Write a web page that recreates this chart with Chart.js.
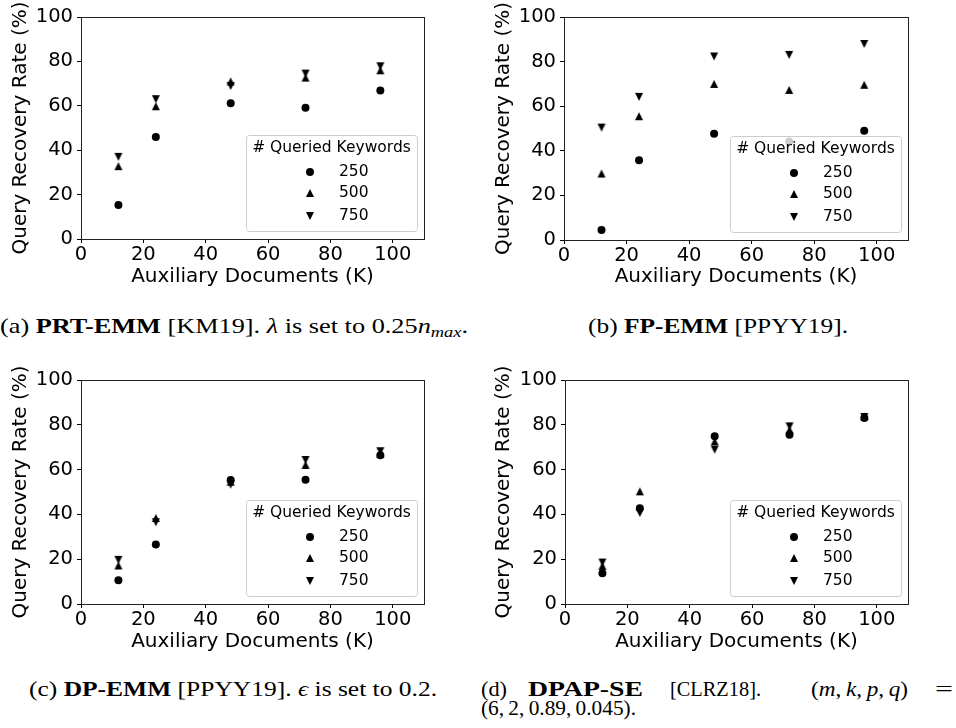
<!DOCTYPE html>
<html><head><meta charset="utf-8">
<script src="https://cdn.jsdelivr.net/npm/chart.js@4.4.1/dist/chart.umd.min.js"></script>
<style>
html,body{margin:0;padding:0;background:#fff;width:956px;height:728px;overflow:hidden;position:relative;}
canvas{position:absolute;}
.cap{position:absolute;font-family:"Liberation Serif","DejaVu Serif",serif;font-size:21px;line-height:20px;color:#000;white-space:nowrap;}
.cap > span{display:inline-block;}
.cap sub{font-size:70%;vertical-align:-0.3em;line-height:0;}
</style></head><body>
<canvas id="ca" width="478" height="300" style="left:0;top:0"></canvas>
<canvas id="cb" width="478" height="300" style="left:478px;top:0"></canvas>
<canvas id="cc" width="478" height="300" style="left:0;top:363px"></canvas>
<canvas id="cd" width="478" height="300" style="left:478px;top:363px"></canvas>

<div class="cap" data-w="468" data-c="234" style="top:316px"><span>(a) <b>PRT-EMM</b> [KM19]. <i>λ</i> is set to 0.25<i>n</i><sub><i>max</i></sub>.</span></div>
<div class="cap" data-w="260" data-c="718" style="top:316px"><span>(b) <b>FP-EMM</b> [PPYY19].</span></div>
<div class="cap" data-w="408" data-c="233" style="top:679px"><span>(c) <b>DP-EMM</b> [PPYY19]. <i>ϵ</i> is set to 0.2.</span></div>
<div class="cap" data-w="26" data-l="481" style="top:679px"><span>(d)</span></div>
<div class="cap" data-w="115" data-l="528" style="top:679px"><span><b>DPAP-SE</b></span></div>
<div class="cap" data-w="91" data-l="670" style="top:679px"><span>[CLRZ18].</span></div>
<div class="cap" data-w="97" data-l="811" style="top:679px"><span>(<i>m</i>,&thinsp;<i>k</i>,&thinsp;<i>p</i>,&thinsp;<i>q</i>)</span></div>
<div class="cap" data-w="18" data-l="935" style="top:679px"><span>=</span></div>
<div class="cap" data-w="155" data-l="481" style="top:698px"><span>(6,&thinsp;2,&thinsp;0.89,&thinsp;0.045).</span></div>

<script>
// ---- data ----
const xDocs = [12, 24, 48, 72, 96];
const seriesLabels = ['250', '500', '750'];
const xTicks = [0, 20, 40, 60, 80, 100];
const yTicks = [0, 20, 40, 60, 80, 100];
const xTitle = 'Auxiliary Documents (K)';
const yTitle = 'Query Recovery Rate (%)';
const legendTitle = '# Queried Keywords';

const a250 = [15.3, 45.9, 61.2, 59.1, 66.9];
const a500 = [32.8, 59.8, 71.0, 72.7, 76.0];
const a750 = [37.0, 63.0, 68.9, 74.5, 77.8];

const b250 = [4.5, 35.8, 47.7, 44.2, 49.0];
const b500 = [29.8, 55.5, 70.0, 67.3, 69.6];
const b750 = [50.4, 64.2, 82.3, 83.0, 87.9];

const c250 = [10.6, 26.6, 55.4, 55.5, 66.4];
const c500 = [17.2, 38.4, 54.6, 62.1, 67.0];
const c750 = [19.7, 36.5, 53.3, 64.3, 68.2];

const d250 = [13.7, 42.7, 74.9, 75.6, 83.0];
const d500 = [17.0, 50.3, 72.6, 77.8, 83.8];
const d750 = [18.5, 40.6, 68.9, 79.3, 83.5];

// ---- captions: fit widths (Computer Modern is wider than the available serif) ----
document.querySelectorAll('.cap').forEach(el => {
  const sp = el.firstElementChild;
  const w = sp.getBoundingClientRect().width;
  const target = el.dataset.w ? parseFloat(el.dataset.w) : w;
  const s = target / w;
  sp.style.transformOrigin = 'left center';
  sp.style.transform = 'scaleX(' + s + ')';
  const left = el.dataset.c ? parseFloat(el.dataset.c) - target / 2 : parseFloat(el.dataset.l);
  el.style.left = left + 'px';
});

// ---- marker images (bbox-centred triangles like matplotlib) ----
function triCanvas(up){
  const c = document.createElement('canvas'); c.width = 10; c.height = 10;
  const g = c.getContext('2d'); g.fillStyle = '#000'; g.beginPath();
  if (up){ g.moveTo(5,1); g.lineTo(9,9); g.lineTo(1,9); }
  else { g.moveTo(1,1); g.lineTo(9,1); g.lineTo(5,9); }
  g.closePath(); g.fill(); return c;
}
const triUp = triCanvas(true), triDown = triCanvas(false);
const markerStyles = ['circle', triUp, triDown];

const FONT = 'DejaVu Sans';
const FS = 19.5;
const FT = 20;

function drawLegend(chart){
  const {ctx, chartArea:a} = chart;
  const w = 171, h = 96;
  const x = a.right - 7 - w, y = a.bottom - 8 - h;
  ctx.save();
  ctx.beginPath();
  if (ctx.roundRect) ctx.roundRect(x + 0.5, y + 0.5, w, h, 3); else ctx.rect(x + 0.5, y + 0.5, w, h);
  ctx.fillStyle = 'rgba(255,255,255,0.8)';
  ctx.fill();
  ctx.strokeStyle = '#cccccc'; ctx.lineWidth = 1; ctx.stroke();
  ctx.fillStyle = '#000';
  ctx.font = '15.5px "' + FONT + '"';
  ctx.textBaseline = 'middle';
  ctx.textAlign = 'center';
  ctx.fillText(legendTitle, x + w / 2, y + 13);
  ctx.textAlign = 'left';
  const rows = [37, 58, 81];
  seriesLabels.forEach((lab, i) => {
    const yy = y + rows[i], xx = x + 64;
    const st = markerStyles[i];
    if (st === 'circle'){ ctx.beginPath(); ctx.arc(xx, yy, 4, 0, Math.PI * 2); ctx.fill(); }
    else ctx.drawImage(st, xx - 5, yy - 5);
    ctx.fillText(lab, x + 93, yy);
  });
  ctx.restore();
}

const framePlugin = {
  id: 'frameLegend',
  afterDatasetsDraw(chart){
    const {ctx, chartArea:a} = chart;
    ctx.save();
    ctx.strokeStyle = '#222'; ctx.lineWidth = 1;
    const l = Math.round(a.left) + 0.5, t = Math.round(a.top) + 0.5;
    const r = Math.round(a.right) + 0.5, b = Math.round(a.bottom) + 0.5;
    ctx.strokeRect(l, t, r - l, b - t);
    ctx.restore();
    drawLegend(chart);
  }
};

function makeChart(id, s250, s500, s750, p){
  const series = [s250, s500, s750];
  const datasets = series.map((vals, i) => ({
    label: seriesLabels[i],
    data: xDocs.map((x, j) => ({x: x, y: vals[j]})),
    pointStyle: markerStyles[i],
    pointRadius: 4,
    pointHoverRadius: 4,
    backgroundColor: '#000',
    borderColor: '#000',
    borderWidth: 0,
    order: 3 - i
  }));
  new Chart(document.getElementById(id), {
    type: 'scatter',
    data: { datasets },
    plugins: [framePlugin],
    options: {
      responsive: false,
      animation: false,
      devicePixelRatio: 1,
      layout: { padding: { top: p.top, right: p.right, left: 0, bottom: 0 } },
      plugins: { legend: { display: false }, tooltip: { enabled: false } },
      scales: {
        x: {
          type: 'linear', min: 0, max: 110,
          afterBuildTicks: s => { s.ticks = xTicks.map(v => ({value: v})); },
          afterFit: s => { s.height = p.xH; },
          ticks: { font: {family: FONT, size: FS, lineHeight: 1}, color: '#000', padding: 2, maxRotation: 0, autoSkip: false },
          grid: { display: true, drawOnChartArea: false, drawTicks: true, tickLength: 4, tickColor: '#000', tickWidth: 1 },
          border: { display: true, color: '#222', width: 1 },
          title: { display: true, text: xTitle, color: '#000', font: {family: FONT, size: FT, lineHeight: 1.2}, padding: {top: 0, bottom: p.xtp} }
        },
        y: {
          type: 'linear', min: 0, max: 100,
          afterBuildTicks: s => { s.ticks = yTicks.map(v => ({value: v})); },
          afterFit: s => { s.width = p.yW; },
          ticks: { font: {family: FONT, size: FS, lineHeight: 1}, color: '#000', padding: 4, autoSkip: false },
          grid: { display: true, drawOnChartArea: false, drawTicks: true, tickLength: 4, tickColor: '#000', tickWidth: 1 },
          border: { display: true, color: '#222', width: 1 },
          title: { display: true, text: yTitle, color: '#000', font: {family: FONT, size: FT, lineHeight: 1.2}, padding: {top: p.ytp, bottom: 0} }
        }
      }
    }
  });
}

makeChart('ca', a250, a500, a750, {top: 17, right: 54, xH: 61, yW: 81, xtp: 11, ytp: 8.5});
makeChart('cb', b250, b500, b750, {top: 17, right: 48, xH: 60, yW: 86, xtp: 11, ytp: 14});
makeChart('cc', c250, c500, c750, {top: 17, right: 54, xH: 59, yW: 81, xtp: 9, ytp: 8.8});
makeChart('cd', d250, d500, d750, {top: 17, right: 48, xH: 59, yW: 87, xtp: 9, ytp: 14});
</script>
</body></html>
